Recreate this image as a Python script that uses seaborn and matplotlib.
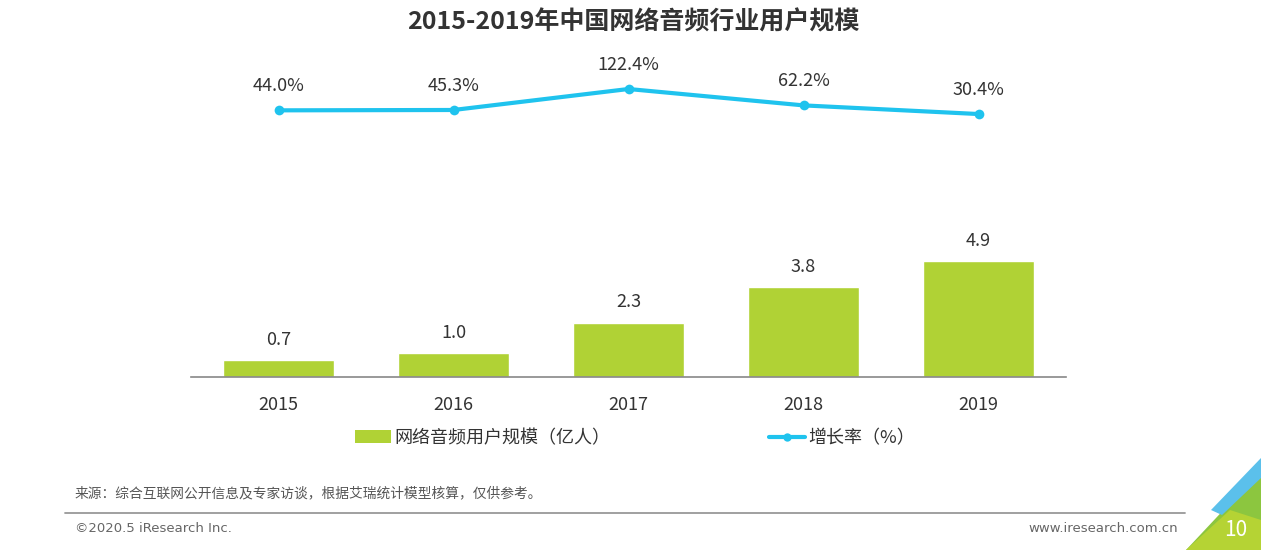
import matplotlib
matplotlib.use("Agg")
import matplotlib.pyplot as plt
import seaborn as sns
import pandas as pd
from matplotlib.patches import Polygon, Patch
from matplotlib.lines import Line2D

years = ["2015", "2016", "2017", "2018", "2019"]
users = [0.7, 1.0, 2.3, 3.8, 4.9]
growth = [44.0, 45.3, 122.4, 62.2, 30.4]
growth_labels = ["44.0%", "45.3%", "122.4%", "62.2%", "30.4%"]

title = "2015-2019年中国网络音频行业用户规模"
bar_name = "网络音频用户规模（亿人）"
line_name = "增长率（%）"
source = "来源：综合互联网公开信息及专家访谈，根据艾瑞统计模型核算，仅供参考。"

GREEN = "#B0D235"
CYAN = "#1FC3EE"
DARK = "#333333"

sns.set_theme(style="white")
plt.rcParams['font.family'] = ['Noto Sans CJK SC', 'DejaVu Sans']

W, H = 1261, 550
fig = plt.figure(figsize=(W / 100, H / 100), dpi=100)

def fx(px):
    return px / W

def fy(py):
    return 1 - py / H

ax = fig.add_axes([fx(191), fy(377), fx(1066) - fx(191), fy(60) - fy(377)])
df = pd.DataFrame({"year": years, "users": users})
sns.barplot(data=df, x="year", y="users", color=GREEN, saturation=1, width=0.63, ax=ax)
ax.set_xlim(-0.5, 4.5)
ax.set_ylim(0, 13.38)
for s in ["top", "right", "left"]:
    ax.spines[s].set_visible(False)
ax.spines["bottom"].set_color("#888888")
ax.spines["bottom"].set_linewidth(1.2)
ax.set_yticks([])
ax.set_xlabel("")
ax.set_ylabel("")
ax.tick_params(axis="x", length=0, pad=14, labelsize=13, labelcolor=DARK)
for i, v in enumerate(users):
    ax.annotate(f"{v:.1f}", (i, v), xytext=(0, 8), textcoords="offset points",
                ha="center", va="bottom", fontsize=13, color=DARK)

ax2 = ax.twinx()
ldf = pd.DataFrame({"x": list(range(5)), "g": growth})
sns.lineplot(data=ldf, x="x", y="g", color=CYAN, linewidth=3, marker="o",
             markersize=7, markeredgewidth=0, ax=ax2)
ax2.set_ylim(-936, 229)
ax2.set_xlim(-0.5, 4.5)
ax2.axis("off")
for i, (v, lab) in enumerate(zip(growth, growth_labels)):
    ax2.annotate(lab, (i, v), xytext=(0, 11), textcoords="offset points",
                 ha="center", va="bottom", fontsize=13, color=DARK)

fig.text(fx(633), fy(22), title, ha="center", va="center", fontsize=18,
         fontweight="bold", color=DARK)

handles = [Patch(facecolor=GREEN, edgecolor="none"),
           Line2D([0], [0], color=CYAN, lw=3, marker="o", markersize=6, markeredgewidth=0)]
fig.legend(handles, [bar_name, line_name], loc="center", bbox_to_anchor=(fx(635), fy(438)),
           ncol=2, frameon=False, fontsize=13, columnspacing=8.8, handlelength=2,
           handletextpad=0.15, labelcolor=DARK)

fig.text(fx(75), fy(493), source, ha="left", va="center", fontsize=9.9, color="#555555")
fig.add_artist(Line2D([fx(65), fx(1185)], [fy(513), fy(513)], color="#999999", lw=1.3))
fig.text(fx(75), fy(529), "©2020.5 iResearch Inc.", ha="left", va="center", fontsize=9.5, color="#666666",
         family=["DejaVu Sans"])
fig.text(fx(1178), fy(529), "www.iresearch.com.cn", ha="right", va="center", fontsize=9.5, color="#666666",
         family=["DejaVu Sans"])

corner = [
    ([(1261, 470), (1261, 550), (1186, 550)], "#8CC63F"),
    ([(1230, 510), (1261, 520), (1261, 550), (1186, 550)], "#B5D334"),
    ([(1261, 458), (1261, 478), (1222, 515), (1211, 510)], "#5BC0EB"),
]
for pts, c in corner:
    fig.add_artist(Polygon([(fx(a), fy(b)) for a, b in pts], closed=True, facecolor=c,
                           edgecolor="none", transform=fig.transFigure))
fig.text(fx(1236), fy(530), "10", ha="center", va="center", fontsize=15, color="white")

fig.savefig("out.png", dpi=100)
